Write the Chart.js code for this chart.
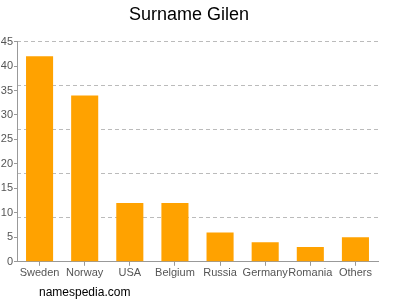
<!DOCTYPE html>
<html>
<head>
<meta charset="utf-8">
<script src="https://cdn.jsdelivr.net/npm/chart.js@4"></script>
<style>
    html, body { margin: 0; padding: 0; background: #fff; }
    #wrap { width: 400px; height: 300px; }
</style>
</head>
<body>
<div id="wrap"><canvas id="surnameChart" width="400" height="300"></canvas></div>
<script>
// Chart data
const countries = ['Sweden', 'Norway', 'USA', 'Belgium', 'Russia', 'Germany', 'Romania', 'Others'];
const counts = [42, 34, 12, 12, 6, 4, 3, 5];
const yTicks = [0, 5, 10, 15, 20, 25, 30, 35, 40, 45];
const gridSteps = [0, 9, 18, 27, 36, 45];

const fontFamily = '"Liberation Sans", Arial, Helvetica, sans-serif';

// Footer text plugin
const footerPlugin = {
    id: 'footerText',
    afterDraw: function(chart) {
        const ctx = chart.ctx;
        ctx.save();
        ctx.font = '12px ' + fontFamily;
        ctx.fillStyle = '#000';
        ctx.textBaseline = 'alphabetic';
        ctx.fillText('namespedia.com', 39, 296);
        ctx.restore();
    }
};

const ctx = document.getElementById('surnameChart').getContext('2d');
const surnameChart = new Chart(ctx, {
    type: 'bar',
    data: {
        labels: countries,
        datasets: [{
            data: counts,
            backgroundColor: '#ffa200',
            barPercentage: 0.6,
            categoryPercentage: 1.0
        }]
    },
    options: {
        responsive: false,
        animation: false,
        layout: {
            padding: { top: 0, right: 22, bottom: 19, left: 0 }
        },
        plugins: {
            legend: { display: false },
            tooltip: { enabled: false },
            title: {
                display: true,
                text: 'Surname Gilen',
                color: '#000',
                font: { family: fontFamily, size: 18, weight: 'normal' },
                padding: { top: 4, bottom: 16 }
            }
        },
        scales: {
            x: {
                grid: {
                    offset: false,
                    drawOnChartArea: false,
                    tickLength: 4,
                    color: '#999'
                },
                border: { color: '#999' },
                ticks: {
                    color: '#555',
                    font: { family: fontFamily, size: 11 },
                    padding: 1,
                    maxRotation: 0,
                    autoSkip: false
                }
            },
            y: {
                min: 0,
                max: 45,
                afterBuildTicks: function(scale) {
                    scale.ticks = yTicks.map(function(v) { return { value: v }; });
                },
                grid: {
                    drawOnChartArea: false,
                    tickLength: 3,
                    color: '#999'
                },
                border: { color: '#999' },
                ticks: {
                    color: '#555',
                    font: { family: fontFamily, size: 11 },
                    padding: 1
                },
                afterFit: function(scale) { scale.width = 17; }
            },
            y2: {
                position: 'left',
                min: 0,
                max: 45,
                afterBuildTicks: function(scale) {
                    scale.ticks = gridSteps.map(function(v) { return { value: v }; });
                },
                grid: {
                    color: function(c) { return c.tick && c.tick.value === 0 ? 'rgba(0,0,0,0)' : '#bbb'; },
                    drawTicks: false
                },
                border: { display: false, dash: [4, 3] },
                ticks: { display: false },
                afterFit: function(scale) { scale.width = 0; }
            }
        }
    },
    plugins: [footerPlugin]
});
</script>
</body>
</html>
